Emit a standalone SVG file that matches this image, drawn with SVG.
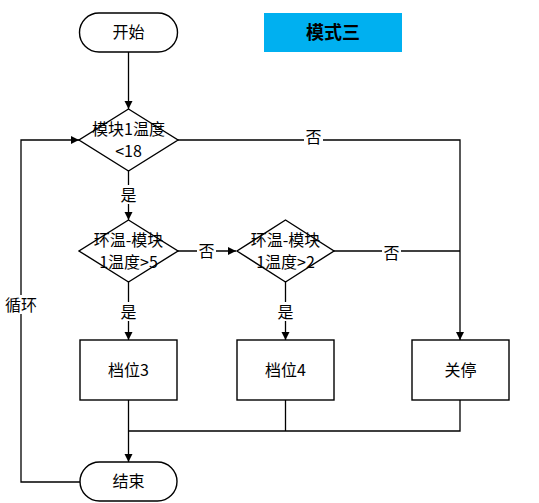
<svg xmlns="http://www.w3.org/2000/svg" width="539" height="503" viewBox="0 0 539 503">
<style>
.shape{fill:#fff;stroke:#000;stroke-width:1.4}
.ln{fill:none;stroke:#000;stroke-width:1.3}
.t{font-family:"Microsoft YaHei","Noto Sans CJK SC","Noto Sans",sans-serif;font-size:16px;fill:#000;text-anchor:middle}
.lbl{fill:#fff;stroke:none}
</style>
<defs>
<marker id="ah" markerWidth="10" markerHeight="10" refX="9" refY="5" orient="auto" markerUnits="userSpaceOnUse">
<path d="M1,1 L9,5 L1,9 Z" fill="#000"/>
</marker>
</defs>
<rect width="539" height="503" fill="#fff"/>
<g id="connectors">
<path class="ln" d="M128.5,52 V109" marker-end="url(#ah)"/>
<path class="ln" d="M128.5,171 V220" marker-end="url(#ah)"/>
<path class="ln" d="M178,251 H236" marker-end="url(#ah)"/>
<path class="ln" d="M178,140 H460 V340" marker-end="url(#ah)"/>
<path class="ln" d="M333,251 H460"/>
<path class="ln" d="M128.5,282 V340" marker-end="url(#ah)"/>
<path class="ln" d="M285.5,282 V340" marker-end="url(#ah)"/>
<path class="ln" d="M128.5,400 V462" marker-end="url(#ah)"/>
<path class="ln" d="M285.5,400 V431 M460,400 V431 H128.5"/>
<path class="ln" d="M80,482 H21 V140 H79" marker-end="url(#ah)"/>
<rect class="lbl" x="119" y="185" width="19" height="19"/>
<text class="t" x="128.5" y="201">是</text>
<rect class="lbl" x="197" y="242" width="19" height="19"/>
<text class="t" x="206.5" y="257">否</text>
<rect class="lbl" x="304" y="128" width="19" height="19"/>
<text class="t" x="313.5" y="143">否</text>
<rect class="lbl" x="382" y="244" width="19" height="19"/>
<text class="t" x="391.5" y="259">否</text>
<rect class="lbl" x="119" y="302" width="19" height="19"/>
<text class="t" x="128.5" y="318">是</text>
<rect class="lbl" x="276" y="302" width="19" height="19"/>
<text class="t" x="285.5" y="318">是</text>
<rect class="lbl" x="4" y="295" width="34" height="19"/>
<text class="t" x="21" y="311">循环</text>
</g>
<g id="start">
<rect class="shape" x="79.5" y="13" width="98" height="39" rx="19.5"/>
<text class="t" x="128.5" y="38">开始</text>
</g>
<g id="title">
<rect x="264" y="13" width="138" height="39" fill="#00B0F0"/>
<text class="t" x="333" y="39" style="font-size:18px;font-weight:bold">模式三</text>
</g>
<g id="d1">
<path class="shape" d="M128.5,109 L178,140 L128.5,171 L79,140 Z"/>
<text class="t" x="128.5" y="135">模块1温度</text>
<text class="t" x="128.5" y="157">&lt;18</text>
</g>
<g id="d2">
<path class="shape" d="M128.5,220 L178,251 L128.5,282 L79,251 Z"/>
<text class="t" x="128.5" y="246">环温-模块</text>
<text class="t" x="128.5" y="268">1温度&gt;5</text>
</g>
<g id="d3">
<path class="shape" d="M285.5,220 L334,251 L285.5,282 L237,251 Z"/>
<text class="t" x="285.5" y="246">环温-模块</text>
<text class="t" x="285.5" y="268">1温度&gt;2</text>
</g>
<g id="g3">
<rect class="shape" x="80" y="340" width="97" height="60"/>
<text class="t" x="128.5" y="376">档位3</text>
</g>
<g id="g4">
<rect class="shape" x="237" y="340" width="97" height="60"/>
<text class="t" x="285.5" y="376">档位4</text>
</g>
<g id="stop">
<rect class="shape" x="412" y="340" width="97" height="60"/>
<text class="t" x="460.5" y="376">关停</text>
</g>
<g id="end">
<rect class="shape" x="80" y="462" width="97" height="39" rx="19.5"/>
<text class="t" x="128.5" y="487">结束</text>
</g>
</svg>
